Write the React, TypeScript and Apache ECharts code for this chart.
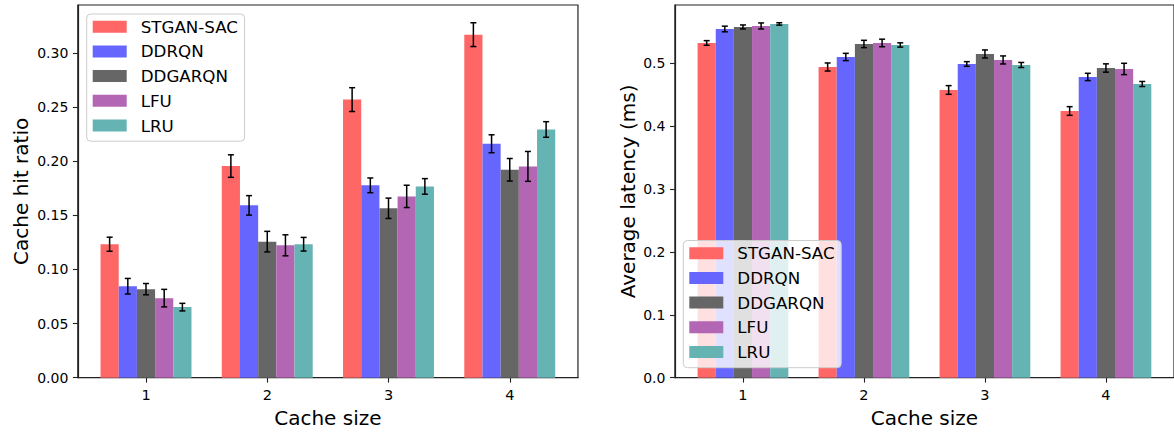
import React, { useEffect, useRef } from "react";
import * as echarts from "echarts";

const categories = [1, 2, 3, 4];
const methods = ["STGAN-SAC", "DDRQN", "DDGARQN", "LFU", "LRU"];
const colors = ["#ff6666", "#6666ff", "#666666", "#b366b3", "#66b3b3"];

// Cache hit ratio (left)
const hitSTGAN = [0.1233, 0.1955, 0.2569, 0.3169];
const hitSTGANErr = [0.0065, 0.0104, 0.011, 0.011];
const hitDDRQN = [0.0845, 0.1592, 0.1777, 0.2161];
const hitDDRQNErr = [0.0072, 0.009, 0.0068, 0.0083];
const hitDDGARQN = [0.0818, 0.1257, 0.1565, 0.1921];
const hitDDGARQNErr = [0.0052, 0.0095, 0.0094, 0.0104];
const hitLFU = [0.0735, 0.1223, 0.1675, 0.1952];
const hitLFUErr = [0.0081, 0.0097, 0.0103, 0.0138];
const hitLRU = [0.0652, 0.1233, 0.1767, 0.2293];
const hitLRUErr = [0.0035, 0.0063, 0.0072, 0.0072];

// Average latency (right)
const latSTGAN = [0.5318, 0.4936, 0.4571, 0.4237];
const latSTGANErr = [0.0037, 0.0064, 0.0069, 0.0069];
const latDDRQN = [0.554, 0.5095, 0.4984, 0.4778];
const latDDRQNErr = [0.0045, 0.0058, 0.0037, 0.0058];
const latDDGARQN = [0.5572, 0.5302, 0.5143, 0.492];
const latDDGARQNErr = [0.0032, 0.0058, 0.0064, 0.0066];
const latLFU = [0.5588, 0.5318, 0.5048, 0.4905];
const latLFUErr = [0.0048, 0.006, 0.0064, 0.009];
const latLRU = [0.562, 0.5286, 0.4968, 0.4666];
const latLRUErr = [0.0019, 0.0034, 0.004, 0.004];

const hitTicks = [0, 0.05, 0.1, 0.15, 0.2, 0.25, 0.3];
const latTicks = [0, 0.1, 0.2, 0.3, 0.4, 0.5];

const hitVals = [hitSTGAN, hitDDRQN, hitDDGARQN, hitLFU, hitLRU];
const hitErrs = [hitSTGANErr, hitDDRQNErr, hitDDGARQNErr, hitLFUErr, hitLRUErr];
const latVals = [latSTGAN, latDDRQN, latDDGARQN, latLFU, latLRU];
const latErrs = [latSTGANErr, latDDRQNErr, latDDGARQNErr, latLFUErr, latLRUErr];

const BAR_W = 0.15;
const OFFSETS = [-0.3, -0.15, 0, 0.15, 0.3];
const X_MIN = 1 - 0.375 - 0.1875;
const X_MAX = 4 + 0.375 + 0.1875;
const FONT = "DejaVu Sans";
const AX = "#222";

function yMax(vals: number[][], errs: number[][]) {
  let m = 0;
  vals.forEach((s, i) => s.forEach((v, j) => (m = Math.max(m, v + errs[i][j]))));
  return m * 1.05;
}

function makeSeries(vals: number[][], errs: number[][], axisIdx: number) {
  return methods.map((name, i) => ({
    type: "custom",
    name,
    xAxisIndex: axisIdx,
    yAxisIndex: axisIdx,
    itemStyle: { color: colors[i] },
    encode: { x: 0, y: 1 },
    data: categories.map((c, j) => [c + OFFSETS[i], vals[i][j], errs[i][j]]),
    renderItem: (params: any, api: any) => {
      const x = api.value(0);
      const y = api.value(1);
      const e = api.value(2);
      const p0 = api.coord([x - BAR_W / 2, y]);
      const p1 = api.coord([x + BAR_W / 2, 0]);
      const t = api.coord([x, y + e]);
      const b = api.coord([x, y - e]);
      const cap = 3;
      const ls = { stroke: "#000", lineWidth: 1.5 };
      return {
        type: "group",
        children: [
          {
            type: "rect",
            shape: { x: p0[0], y: p0[1], width: p1[0] - p0[0], height: p1[1] - p0[1] },
            style: { fill: colors[i] },
          },
          { type: "line", shape: { x1: t[0], y1: t[1], x2: b[0], y2: b[1] }, style: ls },
          { type: "line", shape: { x1: t[0] - cap, y1: t[1], x2: t[0] + cap, y2: t[1] }, style: ls },
          { type: "line", shape: { x1: b[0] - cap, y1: b[1], x2: b[0] + cap, y2: b[1] }, style: ls },
        ],
      };
    },
  }));
}

function xAxisCfg(gridIndex: number) {
  return {
    type: "value",
    gridIndex,
    min: X_MIN,
    max: X_MAX,
    name: "Cache size",
    nameLocation: "middle",
    nameGap: 30,
    nameTextStyle: { fontFamily: FONT, fontSize: 20, color: "#000" },
    axisLine: { show: true, lineStyle: { color: AX, width: 1.2 } },
    axisTick: { show: true, length: 4.9, lineStyle: { color: AX, width: 1.1 }, customValues: categories },
    axisLabel: {
      show: true,
      margin: 9.5,
      customValues: categories,
      fontFamily: FONT,
      fontSize: 14.5,
      color: "#000",
      formatter: (v: number) => String(Math.round(v)),
    },
    splitLine: { show: false },
  };
}

function yAxisCfg(gridIndex: number, name: string, max: number, ticks: number[], digits: number, gap: number) {
  return {
    type: "value",
    gridIndex,
    min: 0,
    max,
    name,
    nameLocation: "middle",
    nameRotate: 90,
    nameGap: gap,
    nameTextStyle: { fontFamily: FONT, fontSize: 20, color: "#000" },
    axisLine: { show: true, lineStyle: { color: AX, width: 1.2 } },
    axisTick: { show: true, length: 4.9, lineStyle: { color: AX, width: 1.1 }, customValues: ticks },
    axisLabel: {
      show: true,
      margin: 9.5,
      customValues: ticks,
      fontFamily: FONT,
      fontSize: 14,
      color: "#000",
      formatter: (v: number) => v.toFixed(digits),
    },
    splitLine: { show: false },
  };
}

function legendCfg(left: number, top: number) {
  return {
    orient: "vertical",
    left,
    top,
    z: 20,
    data: methods.map((n) => ({ name: n, icon: "rect" })),
    itemWidth: 34,
    itemHeight: 12,
    itemGap: 4.7,
    padding: [2.7, 6.6, 5.7, 6],
    backgroundColor: "rgba(255,255,255,0.8)",
    borderColor: "#cccccc",
    borderWidth: 1,
    borderRadius: 4,
    selectedMode: false,
    textStyle: {
      fontFamily: FONT,
      fontSize: 16.7,
      color: "#000",
      lineHeight: 20,
      padding: [0, 0, 0, 9],
    },
  };
}

export default function App() {
  const ref = useRef<HTMLDivElement>(null);
  useEffect(() => {
    if (!ref.current) return;
    const chart = echarts.init(ref.current, null, { renderer: "svg" });
    const spacing = 121.25;
    const gridH = 372.7;
    chart.setOption({
      animation: false,
      backgroundColor: "#fff",
      grid: [
        {
          left: 77.8,
          top: 5,
          width: spacing * (X_MAX - X_MIN),
          height: gridH,
          show: true,
          borderColor: AX,
          borderWidth: 1.2,
          backgroundColor: "transparent",
        },
        {
          left: 674.9,
          top: 5,
          width: spacing * (X_MAX - X_MIN),
          height: gridH,
          show: true,
          borderColor: AX,
          borderWidth: 1.2,
          backgroundColor: "transparent",
        },
      ],
      xAxis: [xAxisCfg(0), xAxisCfg(1)],
      yAxis: [
        yAxisCfg(0, "Cache hit ratio", yMax(hitVals, hitErrs), hitTicks, 2, 47),
        yAxisCfg(1, "Average latency (ms)", yMax(latVals, latErrs), latTicks, 1, 37),
      ],
      legend: [legendCfg(86.7, 14), legendCfg(683.3, 240.5)],
      series: [...makeSeries(hitVals, hitErrs, 0), ...makeSeries(latVals, latErrs, 1)],
    });
    return () => chart.dispose();
  }, []);
  return (
    <div
      ref={ref}
      style={{ position: "absolute", left: 0, top: 0, width: 1174, height: 433 }}
    />
  );
}
